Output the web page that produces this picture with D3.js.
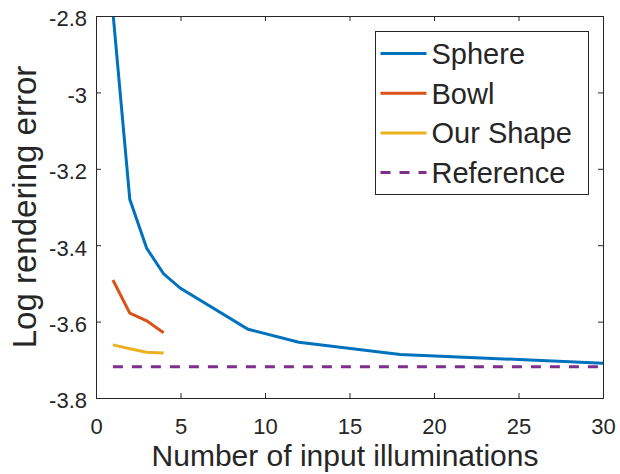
<!DOCTYPE html>
<html>
<head>
<meta charset="utf-8">
<script src="https://cdn.jsdelivr.net/npm/d3@7"></script>
<style>
  body { margin: 0; background: #fff; }
  text { font-family: "Liberation Sans", Arial, sans-serif; fill: #262626; }
</style>
</head>
<body>
<script>
// data
var sphereX = [1, 2, 3, 4, 5, 9, 12, 18, 30];
var sphereY = [-2.79, -3.28, -3.408, -3.475, -3.513, -3.62, -3.654, -3.686, -3.709];
var bowlX = [1, 2, 3, 4];
var bowlY = [-3.491, -3.578, -3.598, -3.629];
var ourX = [1, 2, 3, 4];
var ourY = [-3.661, -3.671, -3.680, -3.682];
var refX = [1, 30];
var refY = [-3.718, -3.718];
var xTicks = [0, 5, 10, 15, 20, 25, 30];
var yTicks = [-3.8, -3.6, -3.4, -3.2, -3, -2.8];
var seriesNames = ['Sphere', 'Bowl', 'Our Shape', 'Reference'];
var seriesColors = ['#0072BD', '#D95319', '#EDB120', '#7E2F8E'];

var width = 620, height = 474;
var margin = {top: 16, right: 17, bottom: 76, left: 96};
var w = width - margin.left - margin.right;
var h = height - margin.top - margin.bottom;

var svg = d3.select('body').append('svg').attr('width', width).attr('height', height);
var g = svg.append('g').attr('transform', 'translate(' + margin.left + ',' + margin.top + ')');

var x = d3.scaleLinear().domain([0, 30]).range([0, w]);
var y = d3.scaleLinear().domain([-3.8, -2.8]).range([h, 0]);

svg.append('defs').append('clipPath').attr('id', 'clip')
  .append('rect').attr('width', w).attr('height', h);

var series = [
  {x: sphereX, y: sphereY},
  {x: bowlX, y: bowlY},
  {x: ourX, y: ourY},
  {x: refX, y: refY}
];

var line = d3.line().x(function(d) { return x(d[0]); }).y(function(d) { return y(d[1]); });

var plot = g.append('g').attr('clip-path', 'url(#clip)');
series.forEach(function(s, i) {
  plot.append('path')
    .datum(d3.zip(s.x, s.y))
    .attr('d', line)
    .attr('fill', 'none')
    .attr('stroke', seriesColors[i])
    .attr('stroke-width', 3)
    .attr('stroke-dasharray', i === 3 ? '10,9' : null);
});

function fmt(d) { return String(d); }

// axes, ticks inward like matlab
var tl = 5;
g.append('g').attr('transform', 'translate(0,' + h + ')')
  .call(d3.axisBottom(x).tickValues(xTicks).tickSize(-tl).tickPadding(20).tickFormat(fmt));
g.append('g')
  .call(d3.axisTop(x).tickValues(xTicks).tickSize(-tl).tickFormat(''));
var yAx = g.append('g')
  .call(d3.axisLeft(y).tickValues(yTicks).tickSize(-tl).tickPadding(9).tickFormat(fmt));
yAx.selectAll('.tick text').attr('dy', '0.45em');
g.append('g').attr('transform', 'translate(' + w + ',0)')
  .call(d3.axisRight(y).tickValues(yTicks).tickSize(-tl).tickFormat(''));

g.selectAll('.domain').attr('stroke', '#262626');
g.selectAll('.tick line').attr('stroke', '#262626');
g.selectAll('.tick text').attr('font-size', 22).attr('fill', '#262626')
  .attr('font-family', '"Liberation Sans", Arial, sans-serif');

// axis labels
svg.append('text')
  .attr('x', 345).attr('y', 466)
  .attr('text-anchor', 'middle').attr('font-size', 30)
  .text('Number of input illuminations');
svg.append('text')
  .attr('transform', 'translate(36,207) rotate(-90)')
  .attr('text-anchor', 'middle').attr('font-size', 33)
  .text('Log rendering error');

// legend
var leg = svg.append('g').attr('transform', 'translate(375.5,31.5)');
leg.append('rect').attr('width', 213).attr('height', 163)
  .attr('fill', '#fff').attr('stroke', '#262626').attr('stroke-width', 1);
seriesNames.forEach(function(name, i) {
  var yy = 22 + i * 39.7;
  leg.append('line').attr('x1', 5).attr('x2', 51).attr('y1', yy).attr('y2', yy)
    .attr('stroke', seriesColors[i]).attr('stroke-width', 3)
    .attr('stroke-dasharray', i === 3 ? '10,9' : null);
  leg.append('text').attr('x', 56).attr('y', yy).attr('dy', '0.36em')
    .attr('font-size', 29).attr('fill', '#000').text(name);
});
</script>
</body>
</html>
